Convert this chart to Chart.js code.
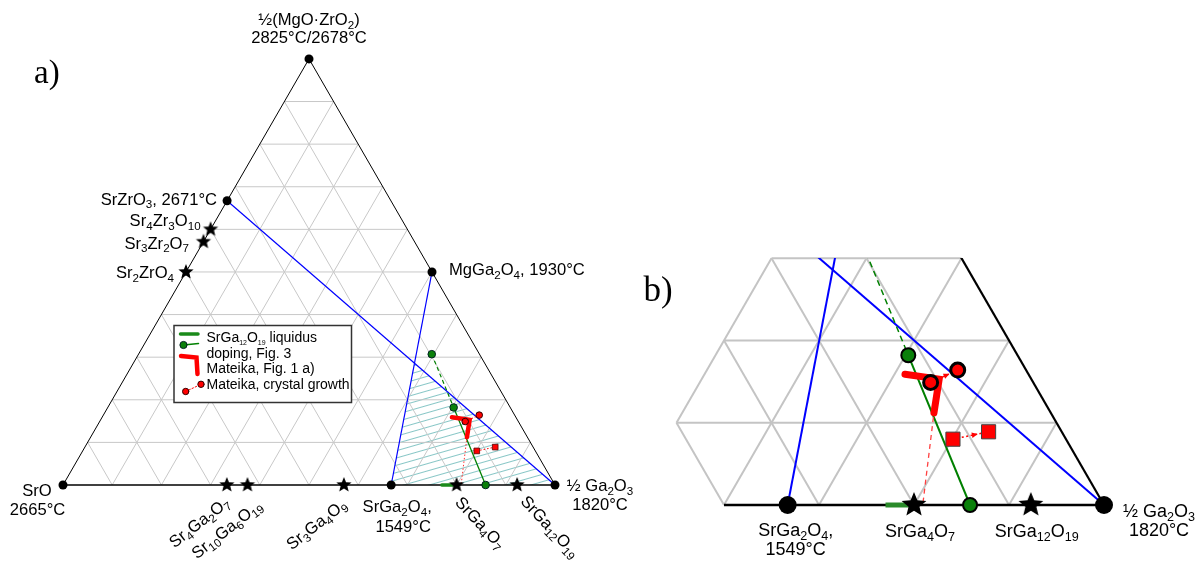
<!DOCTYPE html>
<html><head><meta charset="utf-8">
<script src="https://cdn.jsdelivr.net/npm/chart.js@4.4.1/dist/chart.umd.min.js"></script>
<style>
html,body{margin:0;padding:0;background:#fff;overflow:hidden}
#wrap{position:relative;width:1197px;height:561px;background:#fff}
#ca{position:absolute;left:0;top:0}
#cb{position:absolute;left:640px;top:0}
</style></head><body>
<div id="wrap"><canvas id="ca" width="640" height="561"></canvas><canvas id="cb" width="557" height="561"></canvas></div>
<script>
// ---- DATA: compositions as [fraction ½Ga2O3, fraction ½(MgO·ZrO2)], remainder = SrO ----
const gridTicks = [0.1,0.2,0.3,0.4,0.5,0.6,0.7,0.8,0.9];
const endMembers = [[0,0],[1,0],[0,1]];
const endMemberNames = ['SrO','½ Ga_{2}O_{3}','½(MgO·ZrO_{2})'];
const endMemberMelting = ['2665°C','1820°C','2825°C/2678°C'];
const congruentPhases = [[0,0.667],[0.5,0.5],[0.667,0]];
const congruentNames = ['SrZrO_{3}, 2671°C','MgGa_{2}O_{4}, 1930°C','SrGa_{2}O_{4},'];
const congruentMelting = ['','','1549°C'];
const zirconatePhases = [[0,0.6],[0,0.571],[0,0.5]];
const zirconateNames = ['Sr_{4}Zr_{3}O_{10}','Sr_{3}Zr_{2}O_{7}','Sr_{2}ZrO_{4}'];
const gallatePhases = [[0.333,0],[0.375,0],[0.571,0],[0.8,0],[0.923,0]];
const gallateNames = ['Sr_{4}Ga_{2}O_{7}','Sr_{10}Ga_{6}O_{19}','Sr_{3}Ga_{4}O_{9}','SrGa_{4}O_{7}','SrGa_{12}O_{19}'];
const tieLineA = [[0,0.667],[1,0]];
const tieLineB = [[0.667,0],[0.5,0.5]];
const hatchRegion = [[0.667,0],[1,0],[0.571,0.286],[0.667,0]];
const liquidusRange = [[0.77,0],[0.80,0]];
const dopingPoints = [[0.596,0.307],[0.703,0.182],[0.859,0]];
const mateikaFig1 = [[0.711,0.159],[0.750,0.153],[0.765,0.112]];
const mateikaTail = [[0.808,0.003],[0.765,0.112]];
const growthCircles = [[0.743,0.149],[0.764,0.164]];
const growthSquares = [[0.801,0.080],[0.834,0.089]];
const legendLabels = ['SrGa_{12}O_{19} liquidus','doping, Fig. 3','Mateika, Fig. 1 a)','Mateika, crystal growth'];
const panelLabels = ['a)','b)'];
const zoomWindow = {bMin:0.5, aMax:0.4, cMax:0.3, step:0.1};

// ---- helpers ----
const FONT = '"Liberation Sans", Arial, sans-serif';
const SERIF = '"Liberation Serif", "Times New Roman", serif';
const SQ3 = Math.sqrt(3)/2;
const toXY = p => ({x: p[0] + p[1]/2, y: p[1]*SQ3});

function drawRich(ctx, s, x, y, o) {
  const size = o.size, ss = size * (o.sub || 0.7), fam = o.family || FONT;
  const runs = []; const re = /_\{([^}]*)\}/g; let last = 0, m;
  while ((m = re.exec(s))) { if (m.index > last) runs.push({t: s.slice(last, m.index), s: false}); runs.push({t: m[1], s: true}); last = re.lastIndex; }
  if (last < s.length) runs.push({t: s.slice(last), s: false});
  let w = 0;
  runs.forEach(r => { ctx.font = (r.s ? ss : size) + 'px ' + fam; r.w = ctx.measureText(r.t).width; w += r.w; });
  ctx.save(); ctx.translate(x, y); if (o.rot) ctx.rotate(o.rot * Math.PI / 180);
  let cx = o.align === 'right' ? -w : o.align === 'center' ? -w / 2 : 0;
  const by = o.middle ? size * 0.36 : 0;
  ctx.fillStyle = o.color || '#000'; ctx.textBaseline = 'alphabetic'; ctx.textAlign = 'left';
  runs.forEach(r => { ctx.font = (r.s ? ss : size) + 'px ' + fam; ctx.fillText(r.t, cx, by + (r.s ? size * 0.22 : 0)); cx += r.w; });
  ctx.restore();
}
function starImg(r, color) {
  const s = Math.ceil(2*r + 2); const c = document.createElement('canvas'); c.width = s; c.height = s;
  const g = c.getContext('2d'); g.fillStyle = color; g.beginPath();
  for (let i = 0; i < 10; i++) { const a = -Math.PI/2 + i*Math.PI/5; const rr = i % 2 ? r*0.44 : r; g.lineTo(s/2 + rr*Math.cos(a), s/2 + rr*Math.sin(a)); }
  g.closePath(); g.fill(); return c;
}
function hatchPattern(ctx) {
  const c = document.createElement('canvas'); c.width = 20; c.height = 7;
  const g = c.getContext('2d'); g.strokeStyle = 'rgb(135,198,198)'; g.lineWidth = 1;
  g.beginPath(); g.moveTo(0, 3.5); g.lineTo(20, 3.5); g.stroke();
  const p = ctx.createPattern(c, 'repeat'); p.setTransform(new DOMMatrix().rotate(-16)); return p;
}
function lineDS(points, color, width, opts) {
  return Object.assign({data: points.map(toXY), showLine: true, borderColor: color, backgroundColor: color, borderWidth: width,
    pointRadius: 0, pointHoverRadius: 0, pointHitRadius: 0, fill: false, tension: 0, clip: false}, opts || {});
}
function pointDS(points, style, radius, fillColor, borderColor, borderW) {
  return {data: points.map(toXY), showLine: false, pointStyle: style, pointRadius: radius, pointHoverRadius: radius,
    pointBackgroundColor: fillColor, pointBorderColor: borderColor, pointBorderWidth: borderW, clip: false};
}
function gridSegmentsA() {
  const segs = [];
  gridTicks.forEach(t => {
    segs.push([[0, t], [1 - t, t]]);
    segs.push([[t, 0], [t, 1 - t]]);
    segs.push([[1 - t, 0], [0, 1 - t]]);
  });
  return segs;
}
function gridSegmentsB() {
  const w = zoomWindow, segs = [], e = 1e-9;
  for (let k = w.step; k <= w.cMax + e; k += w.step) segs.push([[Math.max(w.bMin, 1 - w.aMax - k), k], [1 - k, k]]);
  for (let m = w.bMin; m < 1 - e; m += w.step) segs.push([[m, Math.max(0, 1 - w.aMax - m)], [m, Math.min(w.cMax, 1 - m)]]);
  for (let n = w.step; n <= w.aMax + e; n += w.step) { const cTop = Math.min(w.cMax, 1 - w.bMin - n); segs.push([[1 - n, 0], [1 - n - cTop, cTop]]); }
  return segs;
}
function labelPlugin(id, labels, size, extra) {
  return {id, afterDatasetsDraw(chart) {
    const ctx = chart.ctx, xs = chart.scales.x, ys = chart.scales.y;
    labels.forEach(L => {
      const p = toXY(L.at);
      drawRich(ctx, L.text, xs.getPixelForValue(p.x) + L.dx, ys.getPixelForValue(p.y) + L.dy,
        {size: size, align: L.align, rot: L.rot || 0, middle: !!L.rot});
    });
    if (extra) extra(ctx);
  }};
}
const arrowPlugin = {id: 'arrows', afterDatasetsDraw(chart) {
  const ctx = chart.ctx;
  chart.data.datasets.forEach((ds, i) => {
    if (!ds.arrow) return;
    const pts = chart.getDatasetMeta(i).data, n = pts.length;
    const p0 = pts[n - 2], p1 = pts[n - 1];
    const dx = p1.x - p0.x, dy = p1.y - p0.y, L = Math.hypot(dx, dy), ux = dx / L, uy = dy / L;
    const tx = p1.x - ux * ds.arrow.gap, ty = p1.y - uy * ds.arrow.gap, s = ds.arrow.size;
    ctx.save(); ctx.fillStyle = ds.borderColor; ctx.beginPath(); ctx.moveTo(tx, ty);
    ctx.lineTo(tx - ux * s - uy * s * 0.45, ty - uy * s + ux * s * 0.45);
    ctx.lineTo(tx - ux * s + uy * s * 0.45, ty - uy * s - ux * s * 0.45);
    ctx.closePath(); ctx.fill(); ctx.restore();
  });
}};
function baseOptions(xmin, xmax, ymin, ymax, padTop) {
  return {responsive: false, animation: false, events: [], devicePixelRatio: 1,
    layout: {autoPadding: false, padding: {top: padTop, left: 0, right: 0, bottom: 0}},
    plugins: {legend: {display: false}, tooltip: {enabled: false}},
    scales: {x: {type: 'linear', display: false, min: xmin, max: xmax},
             y: {type: 'linear', display: false, min: ymin, max: ymax}}};
}

// ---- panel a ----
const ctxA = document.getElementById('ca').getContext('2d');
const starA = starImg(8, '#000');
const dsA = [];
dsA.push({type: 'line', data: hatchRegion.map(toXY), borderWidth: 0, borderColor: 'rgba(0,0,0,0)',
  backgroundColor: hatchPattern(ctxA), fill: 'shape', pointRadius: 0, pointHoverRadius: 0, tension: 0, clip: false});
gridSegmentsA().forEach(s => dsA.push(lineDS(s, '#c8c8c8', 1)));
dsA.push(lineDS([endMembers[0], endMembers[1]], '#000', 1.6));
dsA.push(lineDS([endMembers[1], endMembers[2]], '#000', 1));
dsA.push(lineDS([endMembers[2], endMembers[0]], '#000', 1));
dsA.push(lineDS(tieLineA, '#0000ff', 1.2));
dsA.push(lineDS(tieLineB, '#0000ff', 1.2));
dsA.push(lineDS(liquidusRange, '#1a8a1a', 3.5, {borderCapStyle: 'round'}));
dsA.push(lineDS(dopingPoints.slice(0, 2), '#008000', 1.2, {borderDash: [4, 3]}));
dsA.push(lineDS(dopingPoints.slice(1, 3), '#008000', 1.3));
dsA.push(lineDS(mateikaTail, '#ff3030', 1, {borderDash: [1.5, 2]}));
dsA.push(lineDS(growthCircles, '#ff0000', 1, {borderDash: [1.5, 2]}));
dsA.push(lineDS(growthSquares, '#ff0000', 1, {borderDash: [1.5, 2]}));
dsA.push(lineDS(mateikaFig1, '#ff0000', 4.5, {borderCapStyle: 'round', borderJoinStyle: 'miter'}));
dsA.push(pointDS(growthSquares, 'rect', 4, '#ff0000', '#500', 0.8));
dsA.push(pointDS(growthCircles, 'circle', 3.3, '#ff0000', '#300', 1));
dsA.push(pointDS(dopingPoints, 'circle', 3.8, '#0a800a', '#022', 1));
dsA.push(pointDS(endMembers.concat(congruentPhases), 'circle', 4.5, '#000', '#000', 0));
dsA.push(pointDS(zirconatePhases.concat(gallatePhases), starA, 8, '#000', '#000', 0));
dsA.reverse();

const labelsA = [
  {text: endMemberNames[2], at: endMembers[2], dx: 0, dy: -34, align: 'center'},
  {text: endMemberMelting[2], at: endMembers[2], dx: 0, dy: -16, align: 'center'},
  {text: endMemberNames[0], at: endMembers[0], dx: -26, dy: 11, align: 'center'},
  {text: endMemberMelting[0], at: endMembers[0], dx: -25.5, dy: 30, align: 'center'},
  {text: endMemberNames[1], at: endMembers[1], dx: 45, dy: 6, align: 'center'},
  {text: endMemberMelting[1], at: endMembers[1], dx: 45, dy: 25, align: 'center'},
  {text: congruentNames[0], at: congruentPhases[0], dx: -10, dy: 4, align: 'right'},
  {text: congruentNames[1], at: congruentPhases[1], dx: 17, dy: 3, align: 'left'},
  {text: congruentNames[2], at: congruentPhases[2], dx: 6, dy: 27, align: 'center'},
  {text: congruentMelting[2], at: congruentPhases[2], dx: 12, dy: 47, align: 'center'},
  {text: zirconateNames[0], at: zirconatePhases[0], dx: -10, dy: -3, align: 'right'},
  {text: zirconateNames[1], at: zirconatePhases[1], dx: -14.5, dy: 7, align: 'right'},
  {text: zirconateNames[2], at: zirconatePhases[2], dx: -12, dy: 6, align: 'right'},
  {text: gallateNames[0], at: gallatePhases[0], dx: 0, dy: 15, align: 'right', rot: -38},
  {text: gallateNames[1], at: gallatePhases[1], dx: 12, dy: 18, align: 'right', rot: -38},
  {text: gallateNames[2], at: gallatePhases[2], dx: 0, dy: 17, align: 'right', rot: -38},
  {text: gallateNames[3], at: gallatePhases[3], dx: 2, dy: 14, align: 'left', rot: 47},
  {text: gallateNames[4], at: gallatePhases[4], dx: 7, dy: 13, align: 'left', rot: 47}
];
function drawLegendA(ctx) {
  ctx.save();
  drawRich(ctx, panelLabels[0], 34, 83, {size: 33, family: SERIF, align: 'left'});
  ctx.fillStyle = '#fff'; ctx.fillRect(174, 325.5, 177.5, 77);
  ctx.strokeStyle = '#333'; ctx.lineWidth = 1.5; ctx.strokeRect(174, 325.5, 177.5, 77);
  ctx.lineCap = 'round';
  ctx.strokeStyle = '#1a8a1a'; ctx.lineWidth = 3.5; ctx.beginPath(); ctx.moveTo(180.5, 334); ctx.lineTo(198, 334); ctx.stroke();
  ctx.strokeStyle = '#008000'; ctx.lineWidth = 1.5; ctx.beginPath(); ctx.moveTo(183.5, 345); ctx.lineTo(198.5, 343.5); ctx.stroke();
  ctx.fillStyle = '#0a800a'; ctx.strokeStyle = '#022'; ctx.lineWidth = 1; ctx.beginPath(); ctx.arc(183.5, 345, 3.6, 0, 2 * Math.PI); ctx.fill(); ctx.stroke();
  ctx.strokeStyle = '#ff0000'; ctx.lineWidth = 4.5; ctx.lineJoin = 'miter'; ctx.beginPath(); ctx.moveTo(181, 356); ctx.lineTo(196.5, 357.5); ctx.lineTo(197.5, 374); ctx.stroke();
  ctx.lineWidth = 1; ctx.setLineDash([1.5, 2]); ctx.beginPath(); ctx.moveTo(185.7, 391.5); ctx.lineTo(201, 384.3); ctx.stroke(); ctx.setLineDash([]);
  ctx.fillStyle = '#ff0000'; ctx.strokeStyle = '#300';
  [[185.7, 391.5], [201, 384.3]].forEach(p => { ctx.beginPath(); ctx.arc(p[0], p[1], 3.2, 0, 2 * Math.PI); ctx.fill(); ctx.stroke(); });
  const base = [342, 357.5, 373, 388.5];
  legendLabels.forEach((t, i) => drawRich(ctx, t, 206.5, base[i], {size: 14, align: 'left', sub: 0.5}));
  ctx.restore();
}
new Chart(ctxA, {type: 'scatter', data: {datasets: dsA},
  options: baseOptions(-63 / 492, (640 - 63) / 492, -76 / 492, 485 / 492, 0),
  plugins: [labelPlugin('labelsA', labelsA, 16.6, drawLegendA)]});

// ---- panel b (zoom) ----
const ctxB = document.getElementById('cb').getContext('2d');
const starB = starImg(13, '#000');
const topClip = {top: 0, left: false, right: false, bottom: false};
const dsB = [];
gridSegmentsB().forEach(s => dsB.push(lineDS(s, '#c4c4c4', 2)));
dsB.push(lineDS([[1 - zoomWindow.aMax, 0], endMembers[1]], '#000', 2.5));
dsB.push(lineDS([endMembers[1], endMembers[2]], '#000', 2.2, {clip: topClip}));
dsB.push(lineDS(tieLineA, '#0000ff', 2, {clip: topClip}));
dsB.push(lineDS(tieLineB, '#0000ff', 2, {clip: topClip}));
dsB.push(lineDS(liquidusRange, '#2a8a2a', 5, {borderCapStyle: 'butt'}));
dsB.push(lineDS(dopingPoints.slice(0, 2), '#008000', 1.5, {borderDash: [6, 4], clip: topClip}));
dsB.push(lineDS(dopingPoints.slice(1, 3), '#008000', 2));
dsB.push(lineDS(mateikaTail, '#ff4040', 1.3, {borderDash: [5, 4]}));
dsB.push(lineDS(growthCircles, '#ff0000', 1.5, {borderDash: [2, 2.5], arrow: {gap: 9, size: 6}}));
dsB.push(lineDS(growthSquares, '#ff0000', 1.5, {borderDash: [2, 2.5], arrow: {gap: 11, size: 6}}));
dsB.push(lineDS(mateikaFig1, '#ff0000', 7, {borderCapStyle: 'round', borderJoinStyle: 'miter'}));
dsB.push(pointDS(growthSquares, 'rect', 10, '#ff0000', '#444', 1));
dsB.push(pointDS(growthCircles, 'circle', 7, '#ff0000', '#000', 3));
dsB.push(pointDS(dopingPoints.filter(p => p[1] <= zoomWindow.cMax), 'circle', 7, '#0a800a', '#000', 2));
dsB.push(pointDS([congruentPhases[2], endMembers[1]], 'circle', 9, '#000', '#000', 0));
dsB.push(pointDS(gallatePhases.slice(3), starB, 13, '#000', '#000', 0));
dsB.reverse();
const labelsB = [
  {text: congruentNames[2], at: congruentPhases[2], dx: 8, dy: 31, align: 'center'},
  {text: congruentMelting[2], at: congruentPhases[2], dx: 8, dy: 50, align: 'center'},
  {text: gallateNames[3], at: gallatePhases[3], dx: 6, dy: 32, align: 'center'},
  {text: gallateNames[4], at: gallatePhases[4], dx: 6, dy: 32, align: 'center'},
  {text: endMemberNames[1], at: endMembers[1], dx: 55, dy: 12, align: 'center'},
  {text: endMemberMelting[1], at: endMembers[1], dx: 55, dy: 31, align: 'center'}
];
new Chart(ctxB, {type: 'scatter', data: {datasets: dsB},
  options: baseOptions(1 - 464 / 950, 1 + 93 / 950, -56 / 950, 247 / 950, 258),
  plugins: [arrowPlugin, labelPlugin('labelsB', labelsB, 18, ctx => drawRich(ctx, panelLabels[1], 3.5, 301, {size: 35, family: SERIF, align: 'left'}))]});
</script>
</body></html>
